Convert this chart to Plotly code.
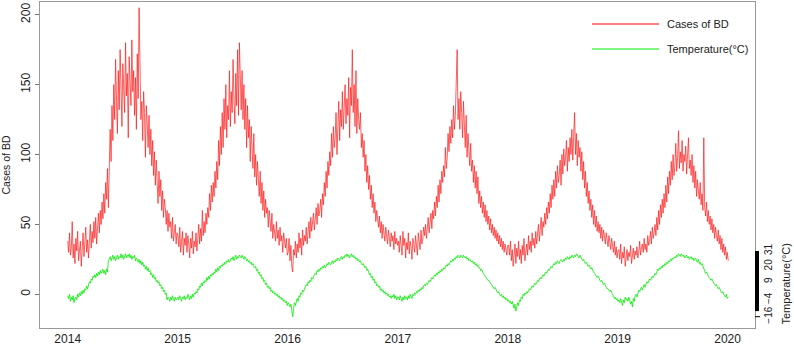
import pandas as pd
import plotly.graph_objects as go

cases_2014 = [38, 30, 44, 28, 33, 52, 26, 36, 22, 40,
              31, 45, 24, 29, 38, 20, 34, 44, 27, 36,
              48, 30, 39, 26, 42, 50, 33, 45, 37, 52,
              40, 55, 36, 48, 58, 44, 60, 50, 66, 54,
              72, 58, 80, 68, 90, 62, 100, 118, 95, 135,
              110, 150, 125, 168, 138, 115, 160, 132, 175, 140,
              120, 165, 148, 130, 180, 142, 158, 112, 170, 150,
              135, 182, 145, 160, 128, 155, 118, 172, 140, 205,
              150, 125, 138, 110, 145, 130, 98, 135, 122, 105,
              128, 100, 118, 92, 110, 85, 102, 78, 96, 80,
              65, 88, 70, 82, 60, 74, 55, 68, 62, 50,
              60, 45, 58, 48, 52, 40, 55, 38, 46, 50, 36, 44]
cases_2015 = [42, 34, 48, 30, 38, 45, 28, 40, 35, 44,
              30, 42, 36, 26, 40, 33, 45, 29, 38, 34,
              44, 31, 40, 50, 36, 47, 38, 60, 42, 52,
              44, 58, 50, 62, 55, 72, 60, 78, 66, 80,
              70, 88, 76, 95, 82, 110, 92, 120, 100, 130,
              105, 140, 118, 150, 112, 135, 125, 160, 120, 145,
              130, 168, 140, 122, 158, 135, 175, 128, 180, 148,
              132, 160, 125, 150, 118, 140, 105, 135, 112, 125,
              95, 120, 102, 90, 115, 84, 100, 78, 95, 82,
              70, 88, 65, 80, 60, 74, 55, 68, 58, 62,
              48, 60, 52, 45, 58, 40, 50, 44, 38, 52,
              40, 46, 35, 48, 38, 42, 30, 44, 36, 33, 40, 28]
cases_2016 = [30, 40, 24, 35, 20, 16, 32, 28, 38, 26,
              36, 30, 44, 33, 40, 28, 46, 35, 42, 38,
              48, 36, 44, 52, 40, 55, 45, 50, 58, 46,
              54, 62, 50, 65, 56, 60, 68, 55, 72, 64,
              80, 70, 88, 76, 95, 85, 102, 92, 115, 98,
              120, 105, 112, 130, 100, 125, 138, 110, 132, 120,
              145, 118, 135, 150, 122, 140, 128, 155, 112, 148,
              135, 175, 130, 150, 120, 160, 115, 140, 125, 118,
              130, 105, 115, 98, 110, 88, 100, 80, 92, 75,
              85, 68, 78, 62, 72, 58, 66, 52, 60, 55,
              48, 56, 44, 52, 40, 50, 45, 38, 48, 42,
              36, 46, 40, 34, 44, 38, 42, 32, 45, 36, 40, 35]
cases_2017 = [38, 30, 42, 33, 28, 45, 35, 40, 26, 37,
              32, 44, 29, 38, 34, 25, 40, 36, 30, 42,
              35, 28, 44, 38, 32, 46, 36, 40, 48, 42,
              50, 40, 46, 55, 44, 52, 58, 47, 60, 54,
              66, 56, 70, 62, 78, 66, 82, 72, 88, 80,
              92, 84, 105, 90, 98, 115, 102, 120, 108, 125,
              112, 135, 118, 128, 150, 175, 125, 140, 118, 145,
              130, 112, 138, 120, 105, 128, 98, 115, 104, 92,
              108, 88, 96, 80, 92, 76, 88, 72, 84, 65,
              74, 62, 70, 58, 66, 55, 64, 52, 60, 50,
              56, 46, 54, 44, 50, 42, 48, 40, 46, 38,
              44, 36, 42, 34, 40, 32, 38, 30, 36, 33, 28, 35]
cases_2018 = [35, 28, 38, 24, 32, 20, 30, 36, 22, 33,
              27, 38, 25, 32, 22, 35, 28, 40, 24, 30,
              36, 28, 42, 32, 38, 30, 44, 35, 40, 33,
              45, 36, 42, 50, 38, 46, 55, 42, 52, 48,
              58, 50, 62, 54, 66, 58, 72, 62, 78, 68,
              82, 70, 88, 76, 92, 80, 85, 96, 78, 100,
              86, 104, 92, 98, 110, 88, 105, 95, 112, 100,
              118, 96, 108, 130, 100, 115, 92, 110, 98, 105,
              88, 102, 82, 95, 76, 88, 70, 80, 65, 74,
              60, 68, 55, 64, 50, 60, 48, 56, 45, 52,
              44, 50, 40, 48, 38, 46, 42, 36, 44, 40,
              34, 42, 38, 32, 40, 35, 30, 38, 28, 34, 26, 31]
cases_2019 = [32, 25, 36, 22, 30, 26, 34, 20, 28, 32,
              24, 30, 27, 35, 22, 29, 33, 25, 31, 28,
              34, 26, 30, 38, 28, 33, 36, 30, 40, 32,
              36, 30, 42, 35, 38, 45, 36, 48, 40, 44,
              50, 42, 55, 46, 60, 50, 64, 55, 68, 58,
              72, 62, 78, 66, 84, 72, 88, 78, 95, 82,
              100, 85, 92, 108, 88, 98, 117, 90, 102, 94,
              110, 88, 100, 95, 106, 86, 98, 112, 90, 96,
              85, 100, 80, 92, 76, 88, 70, 82, 74, 68,
              80, 64, 72, 60, 112, 62, 56, 66, 52, 60,
              50, 56, 46, 54, 44, 50, 40, 48, 42, 38,
              46, 36, 42, 32, 40, 30, 36, 28, 34, 25, 30, 24]

temp_2014 = [-1, -3, 0, -5, -2, -4, -1, -6, -3, -2,
             -4, 0, -2, 1, -1, 2, 0, 3, 1, 4,
             3, 6, 4, 7, 9, 8, 11, 10, 13, 12,
             14, 12, 15, 13, 16, 14, 17, 15, 16, 18,
             15, 17, 14, 18, 16, 24, 25, 27, 24, 26,
             28, 25, 27, 24, 26, 28, 25, 27, 26, 29,
             26, 28, 25, 27, 29, 26, 28, 27, 29, 26,
             28, 25, 27, 26, 28, 24, 26, 25, 23, 25,
             22, 24, 21, 23, 20, 21, 18, 20, 17, 19,
             16, 17, 14, 15, 12, 14, 11, 12, 9, 10,
             8, 9, 6, 7, 4, 5, 2, 3, 0, 1,
             -4, -2, -3, -5, -2, -4, -1, -3, -5, -2, -4, -3]
temp_2015 = [-2, -4, -1, -3, -5, -2, -3, -1, -4, -2,
             -3, 0, -2, -4, -1, -3, 0, -2, 1, 0,
             2, 1, 4, 3, 6, 5, 8, 6, 9, 8,
             10, 9, 12, 10, 13, 11, 14, 13, 15, 14,
             16, 15, 18, 16, 19, 17, 20, 19, 21, 20,
             22, 21, 23, 22, 24, 23, 25, 23, 24, 26,
             25, 27, 24, 26, 28, 25, 27, 26, 28, 27,
             26, 28, 27, 25, 27, 26, 24, 25, 23, 24,
             22, 23, 21, 22, 20, 19, 20, 17, 18, 15,
             16, 13, 14, 11, 12, 9, 10, 7, 8, 5,
             6, 4, 5, 2, 3, 1, 2, 0, 1, -1,
             0, -2, -1, -3, -2, -4, -3, -5, -4, -6, -5, -8]
temp_2016 = [-6, -8, -9, -7, -11, -16, -10, -6, -8, -4,
             -3, -5, -1, -2, 1, 0, 3, 2, 4, 5,
             7, 6, 9, 8, 10, 9, 12, 11, 13, 14,
             15, 14, 17, 16, 18, 17, 19, 18, 20, 19,
             21, 19, 20, 22, 21, 23, 22, 21, 23, 24,
             22, 24, 23, 25, 24, 26, 25, 24, 26, 27,
             25, 27, 26, 28, 27, 29, 27, 28, 26, 28,
             29, 27, 28, 26, 27, 25, 26, 24, 25, 23,
             24, 22, 21, 22, 20, 19, 20, 17, 18, 15,
             14, 15, 12, 13, 10, 11, 8, 9, 6, 7,
             5, 6, 3, 4, 2, 3, 1, 2, 0, 1,
             -1, 0, -2, -1, -3, -1, -2, 0, -3, -1, -4, -2]
temp_2017 = [-2, -4, -1, -3, -5, -2, -4, -1, -3, -2,
             -4, -1, -3, 0, -2, -3, 0, -1, 1, 0,
             2, 1, 3, 2, 4, 3, 5, 4, 6, 7,
             6, 8, 7, 9, 10, 9, 11, 12, 11, 13,
             14, 13, 15, 14, 16, 15, 17, 16, 18, 17,
             19, 18, 20, 21, 20, 22, 21, 23, 24, 23,
             25, 24, 26, 25, 27, 26, 28, 27, 26, 28,
             27, 26, 28, 27, 26, 27, 25, 26, 24, 25,
             24, 23, 24, 22, 23, 21, 22, 20, 21, 19,
             19, 17, 18, 16, 15, 14, 13, 12, 11, 10,
             10, 9, 8, 7, 6, 5, 4, 5, 3, 2,
             1, 2, 0, -1, 0, -2, -1, -3, -2, -4, -3, -5]
temp_2018 = [-4, -6, -5, -7, -5, -8, -10, -7, -12, -9,
             -6, -8, -4, -5, -2, -3, 0, -1, 1, 0,
             2, 1, 3, 4, 3, 5, 6, 5, 7, 8,
             7, 9, 10, 9, 11, 12, 11, 13, 14, 13,
             15, 16, 15, 17, 18, 17, 19, 20, 19, 21,
             22, 21, 23, 22, 24, 23, 22, 24, 25, 24,
             23, 25, 24, 26, 25, 27, 26, 25, 27, 26,
             28, 27, 26, 28, 27, 29, 28, 27, 26, 28,
             26, 25, 24, 25, 23, 22, 23, 21, 20, 21,
             19, 18, 19, 17, 16, 15, 14, 13, 12, 13,
             11, 10, 9, 10, 8, 7, 8, 6, 5, 4,
             4, 3, 2, 3, 1, 0, -1, -3, -2, -4, -3, -5]
temp_2019 = [-4, -6, -3, -5, -8, -4, -6, -2, -4, -3,
             -5, -2, -4, -7, -5, -9, -3, -5, -1, 0,
             -2, 1, 3, 2, 4, 5, 3, 6, 7, 5,
             8, 9, 8, 10, 11, 10, 12, 13, 12, 14,
             15, 14, 16, 18, 17, 19, 18, 20, 19, 21,
             20, 22, 21, 23, 22, 24, 23, 25, 24, 26,
             25, 26, 27, 26, 28, 27, 29, 28, 27, 29,
             28, 27, 28, 26, 27, 28, 26, 27, 25, 26,
             27, 25, 26, 24, 25, 26, 24, 23, 25, 22,
             23, 21, 22, 20, 18, 17, 15, 16, 14, 13,
             12, 11, 10, 11, 9, 8, 7, 6, 7, 5,
             4, 5, 3, 2, 1, 2, 0, -1, -2, 0, -3, -2]

year_labels = ["2014", "2015", "2016", "2017", "2018", "2019", "2020"]
left_ticks = [0, 50, 100, 150, 200]
right_ticks = [-16, -4, 9, 20, 31]

cases = cases_2014 + cases_2015 + cases_2016 + cases_2017 + cases_2018 + cases_2019
temp = temp_2014 + temp_2015 + temp_2016 + temp_2017 + temp_2018 + temp_2019
dates = pd.date_range("2014-01-01", periods=len(cases), freq="3D")
year_ticks = [f"{y}-01-01" for y in year_labels]

FONT = "Liberation Sans, Arial, sans-serif"

fig = go.Figure()
fig.add_trace(go.Scatter(x=dates, y=cases, mode="lines", name="Cases of BD",
                         line=dict(color="#ff1a1a", width=0.7), showlegend=False))
fig.add_trace(go.Scatter(x=dates, y=temp, mode="lines", name="Temperature(°C)",
                         line=dict(color="#00ee00", width=0.8), showlegend=False))
# invisible trace on right axis to activate it
fig.add_trace(go.Scatter(x=[dates[0]], y=[temp[0]], yaxis="y2", mode="lines",
                         line=dict(width=0), hoverinfo="skip", showlegend=False))

yr = [-24.1, 209.1]
fig.update_layout(
    width=794, height=345,
    margin=dict(l=40, r=39, t=2, b=17),
    paper_bgcolor="white", plot_bgcolor="white",
    font=dict(family=FONT, color="#222"),
    xaxis=dict(type="date", range=["2013-10-01", "2020-04-01"],
               tickvals=year_ticks, ticktext=year_labels,
               ticks="", showgrid=False, zeroline=False,
               showline=True, linecolor="#999", linewidth=1, mirror=True,
               tickfont=dict(size=12), automargin=False),
    yaxis=dict(range=yr, tickvals=left_ticks, tickangle=-90,
               ticks="outside", ticklen=4, tickcolor="#777",
               showgrid=False, zeroline=False,
               showline=True, linecolor="#999", linewidth=1, mirror=True,
               tickfont=dict(size=12), automargin=False,
               title=dict(text="Cases of BD", font=dict(size=10.5), standoff=12)),
    yaxis2=dict(range=yr, overlaying="y", side="right", tickvals=right_ticks,
                tickangle=-90, ticks="", showgrid=False, zeroline=False,
                showline=False, tickfont=dict(size=10), automargin=False,
                ticklabelstandoff=6),
)

# right axis title placed low, next to its ticks
fig.add_annotation(xref="paper", yref="y", x=(786 - 40) / 715, y=7,
                   text="Temperature(°C)", textangle=-90, showarrow=False,
                   xanchor="center", yanchor="middle",
                   font=dict(size=11, color="#222"))

# right axis bar and isolated tick (as in the original figure)
fig.add_shape(type="rect", xref="paper", yref="y", x0=1.0, x1=1.0 + 4 / 715,
              y0=-12, y1=31, fillcolor="black", line=dict(width=0))
fig.add_shape(type="line", xref="paper", yref="y", x0=1.0, x1=1.0 + 5 / 715,
              y0=-16, y1=-16, line=dict(color="black", width=1))

# legend (drawn manually)
legend_items = [("Cases of BD", "#ff0000", 24), ("Temperature(°C)", "#00ee00", 49)]
for text, color, ypx in legend_items:
    yp = 1 - (ypx - 2) / 326
    fig.add_shape(type="line", xref="paper", yref="paper",
                  x0=(592 - 40) / 715, x1=(659 - 40) / 715, y0=yp, y1=yp,
                  line=dict(color=color, width=1))
    fig.add_annotation(xref="paper", yref="paper", x=(665 - 40) / 715, y=yp,
                       text=text, showarrow=False, xanchor="left", yanchor="middle",
                       font=dict(size=11, color="#222"))

fig.write_html("out.html", config={"displayModeBar": False},
               post_script="document.body.style.margin='0';document.body.style.overflow='hidden';")
